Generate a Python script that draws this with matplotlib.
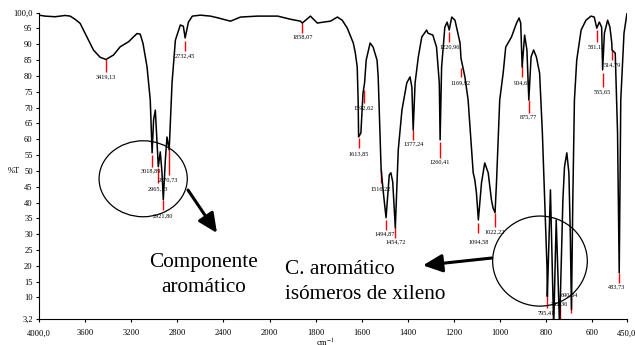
import numpy as np
import matplotlib.pyplot as plt
from matplotlib.patches import Ellipse
from matplotlib.ticker import NullLocator

plt.rcParams['font.family'] = ['Liberation Serif', 'DejaVu Serif']
plt.rcParams['mathtext.fontset'] = 'stix'

# IR spectrum (cm-1, %T)
wavenumber = [4000, 3948, 3861, 3774, 3730, 3687, 3643, 3585, 3528, 3470, 3419.13,
              3354, 3296, 3223, 3150, 3122, 3098, 3063, 3035, 3018.89, 3006, 2991,
              2977, 2965.13, 2948, 2933, 2921.80, 2904, 2890, 2870.73, 2846, 2817,
              2774, 2748, 2732.45, 2704, 2670, 2600, 2513, 2443, 2339, 2252, 2104,
              2000, 1965, 1909, 1866, 1858.07, 1823, 1793, 1767, 1736, 1706, 1685,
              1663, 1637, 1628, 1620, 1616, 1613.85, 1604, 1595, 1592.62, 1588, 1581,
              1564, 1551, 1534, 1529, 1522, 1516.22, 1505, 1494.87, 1481, 1474, 1466,
              1454.72, 1442, 1426, 1405, 1391, 1383, 1377.24, 1369, 1355, 1340, 1319,
              1313, 1292, 1276, 1264, 1260.41, 1254, 1240, 1230, 1220.96, 1210, 1196,
              1174, 1169.92, 1153, 1139, 1117, 1110, 1103, 1094.58, 1081, 1067, 1052,
              1038, 1031, 1022.22, 1016, 1002, 987, 976, 966, 951, 929, 918, 911,
              904.65, 894, 884, 875.77, 866, 855, 843, 829, 817, 807, 797, 795.41,
              782, 768, 757, 742.36, 728, 721, 711, 702, 696, 690.84, 685, 678, 668,
              649, 628, 606, 592, 581.12, 570, 560, 555.65, 548, 534, 524, 516,
              514.79, 501, 491, 483.73, 477, 463, 450]
transmittance = [99.2, 98.9, 98.7, 99.1, 98.9, 97.9, 96.6, 92.4, 88.2, 85.9, 85.2,
                 86.6, 89.2, 90.8, 93.4, 93.2, 90.3, 82.9, 72.4, 55.7, 66.1, 69.2,
                 59.8, 51.3, 56.0, 49.4, 40.9, 53.5, 60.7, 56.6, 77.8, 91.3,
                 96.1, 95.7, 92.0, 97.0, 98.9, 99.2, 98.9, 98.3, 97.3, 98.6, 98.9,
                 98.9, 98.9, 97.9, 97.3, 96.7, 98.9, 96.7, 97.0, 97.3, 98.6, 97.6,
                 95.1, 90.4, 87.2, 82.8, 72.4, 60.7, 62.0, 74.5, 75.6, 77.8, 85.0,
                 90.4, 89.1, 85.0, 79.7, 64.0, 50.3, 42.0, 35.2, 48.7, 49.4, 46.5,
                 32.0, 56.6, 69.2, 77.8, 79.7, 76.5, 62.9, 77.8, 86.0, 92.3, 94.5,
                 93.5, 92.9, 89.1, 77.8, 59.8, 82.8, 95.4, 97.0, 94.5, 98.6, 97.6,
                 90.4, 85.6, 79.7, 72.4, 49.4, 47.2, 43.1, 34.5, 46.2, 52.5, 49.4,
                 40.9, 38.3, 36.8, 46.2, 72.4, 80.9, 89.1, 90.4, 92.3, 96.7, 98.3, 96.7,
                 82.8, 92.9, 88.2, 72.4, 86.0, 88.2, 86.0, 80.9, 62.0, 40.9, 19.7, 10.3,
                 44.0, 0.5, 34.5, 0.5, 40.9, 51.3, 55.7, 49.4, 30.4, 6.2, 40.9, 72.4, 85.0,
                 94.5, 97.6, 98.9, 98.6, 95.1, 97.0, 95.4, 81.9, 93.5, 97.6, 95.4, 90.4,
                 88.2, 87.2, 62.0, 17.8, 72.4, 93.5, 99.8]

# marked peaks
peak_wn = [3419.13, 2732.45, 1858.07, 3018.89, 2965.13, 2921.80, 2870.73, 1613.85,
           1592.62, 1516.22, 1494.87, 1454.72, 1377.24, 1260.41, 1220.96, 1169.92,
           1094.58, 1022.22, 904.65, 875.77, 795.41, 742.36, 690.84, 581.12, 555.65,
           514.79, 483.73]
peak_labels = ['3419,13', '2732,45', '1858,07', '3018,89', '2965,13', '2921,80', '2870,73',
               '1613,85', '1592,62', '1516,22', '1494,87', '1454,72', '1377,24', '1260,41',
               '1220,96', '1169,92', '1094,58', '1022,22', '904,65', '875,77', '795,41',
               '742,36', '690,84', '581,12', '555,65', '514,79', '483,73']

# red marker ends and label placement (%T / cm-1)
mark_top = [85.3, 91.0, 96.7, 55.0, 50.9, 40.9, 56.6, 60.4, 75.6, 50.3, 34.5, 32.3, 62.9,
            59.1, 93.8, 82.5, 33.6, 36.8, 83.4, 72.4, 10.9, 8.4, 11.5, 94.5, 80.9, 88.2, 17.8]
mark_bottom = [81.2, 87.9, 93.5, 51.3, 46.2, 37.7, 48.7, 57.3, 71.5, 46.2, 31.4, 28.9, 59.8,
               54.1, 90.7, 79.7, 30.4, 32.3, 79.7, 68.3, 6.8, 3.2, 5.2, 90.7, 76.5, 85.0, 14.7]
label_x = [3419.13, 2732.45, 1858.07, 3030, 2968, 2921.80, 2883, 1613.85, 1592.62, 1516.22,
           1503, 1454.72, 1377.24, 1260.41, 1220.96, 1169.92, 1094.58, 1022.22, 904.65,
           875.77, 800, 742.36, 700, 581.12, 555.65, 514.79, 494]
label_y = [79.7, 86.3, 92.3, 50.0, 44.3, 35.8, 47.2, 55.4, 69.9, 44.3, 30.1, 27.6, 58.5,
           52.8, 89.1, 77.8, 27.7, 30.8, 77.8, 67.0, 5.2, 8.1, 10.9, 89.1, 74.9, 83.4, 13.4]

xticks = [4000, 3600, 3200, 2800, 2400, 2000, 1800, 1600, 1400, 1200, 1000, 800, 600, 450]
xtick_labels = ['4000,0', '3600', '3200', '2800', '2400', '2000', '1800', '1600', '1400',
                '1200', '1000', '800', '600', '450,0']
yticks = [3.2, 10, 15, 20, 25, 30, 35, 40, 45, 50, 55, 60, 65, 70, 75, 80, 85, 90, 95, 100]
ytick_labels = ['3,2'] + [str(v) for v in yticks[1:-1]] + ['100,0']


# scale doubles below 2000 cm-1
def fwd(w):
    w = np.asarray(w, dtype=float)
    return np.where(w >= 2000, w, 2 * w - 2000)


def inv(u):
    u = np.asarray(u, dtype=float)
    return np.where(u >= 2000, u, (u + 2000) / 2)


fig = plt.figure(figsize=(6.35, 3.45), dpi=100)
ax = fig.add_axes([0.0614, 0.0754, 0.926, 0.888])
ax.set_xscale('function', functions=(fwd, inv))
ax.set_xlim(4000, 450)
ax.set_ylim(3.2, 100)

ax.plot(wavenumber, transmittance, color='black', lw=1.1, zorder=3)
ax.vlines(peak_wn, mark_bottom, mark_top, colors='red', lw=1.0, zorder=2)
for x, y, lab in zip(label_x, label_y, peak_labels):
    ax.text(x, y, lab, fontsize=4.5, ha='center', va='center', zorder=4)

ax.set_xticks(xticks)
ax.set_xticklabels(xtick_labels)
ax.xaxis.set_minor_locator(NullLocator())
ax.set_yticks(yticks)
ax.set_yticklabels(ytick_labels)
ax.tick_params(axis='both', direction='out', length=2.5, width=0.8, labelsize=6.1)
ax.tick_params(axis='x', pad=5)
ax.tick_params(axis='y', pad=2)
for s in ['top', 'right']:
    ax.spines[s].set_visible(False)

ax.set_ylabel('%T', rotation=0, fontsize=6.1)
ax.yaxis.set_label_coords(-0.042, 0.47)
ax.set_xlabel('cm$^{-1}$', fontsize=6.1)
ax.xaxis.set_label_coords(0.488, -0.06)

# circled regions with arrows
ax.add_patch(Ellipse((0.1772, 0.4577), 0.150, 0.248, transform=ax.transAxes,
                     fill=False, ec='black', lw=0.9, zorder=5))
ax.add_patch(Ellipse((0.852, 0.189), 0.161, 0.294, transform=ax.transAxes,
                     fill=False, ec='black', lw=0.9, zorder=5))
arrow = dict(arrowstyle='-|>,head_length=0.9,head_width=0.42', lw=2.2, color='black',
             mutation_scale=13, shrinkA=0, shrinkB=0)
ax.annotate('', xy=(0.3027, 0.2806), xytext=(0.2534, 0.4209),
            xycoords='axes fraction', arrowprops=arrow)
ax.annotate('', xy=(0.653, 0.175), xytext=(0.770, 0.199),
            xycoords='axes fraction', arrowprops=arrow)

ax.text(0.2806, 0.1706, 'Componente', transform=ax.transAxes, fontsize=15.3,
        ha='center', va='baseline')
ax.text(0.2806, 0.0891, 'aromático', transform=ax.transAxes, fontsize=15.3,
        ha='center', va='baseline')
ax.text(0.4184, 0.1468, 'C. aromático', transform=ax.transAxes, fontsize=15.3,
        ha='left', va='baseline')
ax.text(0.4184, 0.0653, 'isómeros de xileno', transform=ax.transAxes, fontsize=15.3,
        ha='left', va='baseline')

fig.savefig('out.png', dpi=100)
